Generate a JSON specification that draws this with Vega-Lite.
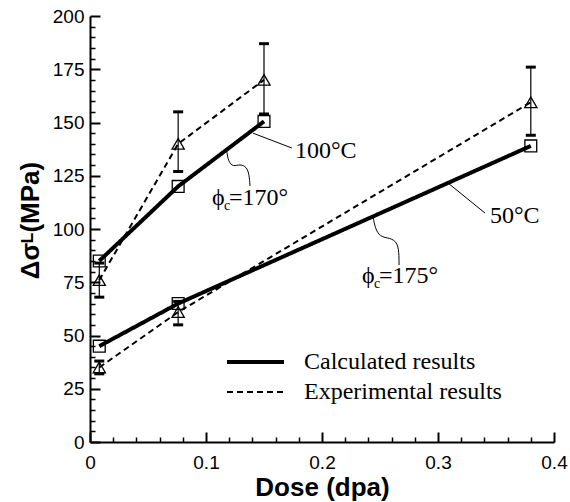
{
  "$schema": "https://vega.github.io/schema/vega-lite/v6.json",
  "width": 464,
  "height": 426,
  "autosize": "none",
  "padding": {"left": 90, "top": 16, "right": 16, "bottom": 60},
  "config": {"view": {"stroke": null}, "font": "Liberation Sans"},
  "resolve": {"axis": {"x": "independent", "y": "independent"}},
  "datasets": {
    "points": [
      {"dose": 0.008, "stress": 85, "series": "100C", "type": "Calculated results"},
      {"dose": 0.076, "stress": 120, "series": "100C", "type": "Calculated results"},
      {"dose": 0.15, "stress": 150.5, "series": "100C", "type": "Calculated results"},
      {"dose": 0.008, "stress": 45, "series": "50C", "type": "Calculated results"},
      {"dose": 0.076, "stress": 65, "series": "50C", "type": "Calculated results"},
      {"dose": 0.38, "stress": 139, "series": "50C", "type": "Calculated results"},
      {"dose": 0.008, "stress": 76, "lo": 68, "hi": 84, "series": "100E", "type": "Experimental results"},
      {"dose": 0.076, "stress": 140, "lo": 127, "hi": 155, "series": "100E", "type": "Experimental results"},
      {"dose": 0.15, "stress": 170, "lo": 154, "hi": 187, "series": "100E", "type": "Experimental results"},
      {"dose": 0.008, "stress": 35, "lo": 32, "hi": 38, "series": "50E", "type": "Experimental results"},
      {"dose": 0.076, "stress": 61, "lo": 55, "hi": 66, "series": "50E", "type": "Experimental results"},
      {"dose": 0.38, "stress": 159.5, "lo": 144, "hi": 176, "series": "50E", "type": "Experimental results"}
    ],
    "leaders": [
      {"id": "l100", "ord": 1, "dose": 0.1405, "stress": 145},
      {"id": "l100", "ord": 2, "dose": 0.1741, "stress": 138},
      {"id": "l50", "ord": 1, "dose": 0.3086, "stress": 121.6},
      {"id": "l50", "ord": 2, "dose": 0.3405, "stress": 107.5},
      {"id": "w170", "ord": 1, "dose": 0.1178, "stress": 137},
      {"id": "w170", "ord": 2, "dose": 0.1192, "stress": 131.6},
      {"id": "w170", "ord": 3, "dose": 0.1235, "stress": 129.2},
      {"id": "w170", "ord": 4, "dose": 0.1293, "stress": 130.5},
      {"id": "w170", "ord": 5, "dose": 0.1351, "stress": 129.2},
      {"id": "w170", "ord": 6, "dose": 0.1373, "stress": 125.4},
      {"id": "w170", "ord": 7, "dose": 0.1379, "stress": 120.2},
      {"id": "w175", "ord": 1, "dose": 0.2442, "stress": 105.5},
      {"id": "w175", "ord": 2, "dose": 0.2457, "stress": 100.5},
      {"id": "w175", "ord": 3, "dose": 0.25, "stress": 96.2},
      {"id": "w175", "ord": 4, "dose": 0.2586, "stress": 95.8},
      {"id": "w175", "ord": 5, "dose": 0.2647, "stress": 93.9},
      {"id": "w175", "ord": 6, "dose": 0.2664, "stress": 89.2},
      {"id": "w175", "ord": 7, "dose": 0.2664, "stress": 83.1}
    ],
    "templabels": [
      {"dose": 0.1767, "stress": 133.3, "text": "100°C"},
      {"dose": 0.3448, "stress": 102.8, "text": "50°C"}
    ],
    "philabels": [
      {"dose": 0.1052, "stress": 111.3, "phi": "ϕ", "sub": "c", "rest": "=170°"},
      {"dose": 0.2345, "stress": 74.6, "phi": "ϕ", "sub": "c", "rest": "=175°"}
    ]
  },
  "layer": [
    {
      "data": {"name": "points"},
      "mark": {"type": "line", "color": "black"},
      "encoding": {
        "x": {
          "field": "dose", "type": "quantitative",
          "scale": {"domain": [0, 0.4], "nice": false, "zero": true},
          "axis": {
            "orient": "bottom",
            "title": "Dose (dpa)",
            "values": [0, 0.1, 0.2, 0.3, 0.4],
            "format": ".1~f",
            "tickSize": -10, "tickWidth": 2, "tickColor": "black",
            "domainColor": "black", "domainWidth": 2,
            "labelPadding": 21, "labelFontSize": 19, "labelColor": "black",
            "labelFlush": false, "labelOverlap": false,
            "titleFontSize": 26, "titleFontWeight": "bold", "titleColor": "black",
            "titleY": 53, "titleBaseline": "alphabetic",
            "grid": false
          }
        },
        "y": {
          "field": "stress", "type": "quantitative",
          "scale": {"domain": [0, 200], "nice": false},
          "axis": {
            "orient": "left",
            "title": "Δσᴸ(MPa)",
            "values": [0, 25, 50, 75, 100, 125, 150, 175, 200],
            "format": "d",
            "tickSize": -10, "tickWidth": 2, "tickColor": "black",
            "domainColor": "black", "domainWidth": 2,
            "labelPadding": 16, "labelFontSize": 19, "labelColor": "black",
            "labelFlush": false, "labelOverlap": false,
            "titleFontSize": 26, "titleFontWeight": "bold", "titleColor": "black",
            "titleX": -52, "titleY": 204, "titleAlign": "center", "titleBaseline": "alphabetic", "titleAngle": -90,
            "grid": false
          }
        },
        "detail": {"field": "series"},
        "strokeDash": {
          "field": "type", "type": "nominal",
          "scale": {"domain": ["Calculated results", "Experimental results"], "range": [[1, 0], [6, 4]]},
          "legend": {"title": null, "orient": "none", "legendX": 135, "legendY": 331, "symbolType": "stroke", "symbolSize": 3249, "symbolStrokeColor": "black", "clipHeight": 30, "labelFont": "Liberation Serif", "labelFontSize": 24, "labelOffset": 18, "labelColor": "black", "labelLimit": 400, "rowPadding": 0, "padding": 0}
        },
        "strokeWidth": {
          "field": "type", "type": "nominal",
          "scale": {"domain": ["Calculated results", "Experimental results"], "range": [4, 2]},
          "legend": {"title": null, "orient": "none", "legendX": 135, "legendY": 331, "symbolType": "stroke", "symbolSize": 3249, "symbolStrokeColor": "black", "clipHeight": 30, "labelFont": "Liberation Serif", "labelFontSize": 24, "labelOffset": 18, "labelColor": "black", "labelLimit": 400, "rowPadding": 0, "padding": 0}
        }
      }
    },
    {
      "data": {"name": "points"},
      "transform": [{"filter": "datum.type == 'Experimental results'"}],
      "mark": {"type": "rule", "color": "black", "strokeWidth": 1.2},
      "encoding": {
        "x": {"field": "dose", "type": "quantitative", "axis": {
          "orient": "bottom", "title": null, "labels": false, "domain": false, "grid": false,
          "values": [0.02, 0.04, 0.06, 0.08, 0.12, 0.14, 0.16, 0.18, 0.22, 0.24, 0.26, 0.28, 0.32, 0.34, 0.36, 0.38],
          "tickSize": -5, "tickWidth": 1.5, "tickColor": "black"
        }},
        "y": {"field": "lo", "type": "quantitative", "axis": {
          "orient": "left", "title": null, "labels": false, "domain": false, "grid": false,
          "values": [5, 10, 15, 20, 30, 35, 40, 45, 55, 60, 65, 70, 80, 85, 90, 95, 105, 110, 115, 120, 130, 135, 140, 145, 155, 160, 165, 170, 180, 185, 190, 195],
          "tickSize": -5, "tickWidth": 1.5, "tickColor": "black"
        }},
        "y2": {"field": "hi"}
      }
    },
    {
      "data": {"name": "points"},
      "transform": [{"filter": "datum.type == 'Experimental results'"}],
      "mark": {"type": "tick", "orient": "horizontal", "color": "black", "size": 10, "thickness": 3, "opacity": 1},
      "encoding": {
        "x": {"field": "dose", "type": "quantitative", "axis": null},
        "y": {"field": "lo", "type": "quantitative", "axis": null}
      }
    },
    {
      "data": {"name": "points"},
      "transform": [{"filter": "datum.type == 'Experimental results'"}],
      "mark": {"type": "tick", "orient": "horizontal", "color": "black", "size": 10, "thickness": 3, "opacity": 1},
      "encoding": {
        "x": {"field": "dose", "type": "quantitative", "axis": null},
        "y": {"field": "hi", "type": "quantitative", "axis": null}
      }
    },
    {
      "data": {"name": "points"},
      "transform": [{"filter": "datum.type == 'Calculated results'"}],
      "mark": {"type": "point", "shape": "square", "filled": false, "stroke": "black", "strokeWidth": 1.3, "size": 140, "opacity": 1},
      "encoding": {
        "x": {"field": "dose", "type": "quantitative", "axis": null},
        "y": {"field": "stress", "type": "quantitative", "axis": null}
      }
    },
    {
      "data": {"name": "points"},
      "transform": [{"filter": "datum.type == 'Experimental results'"}],
      "mark": {"type": "point", "shape": "triangle-up", "filled": false, "stroke": "black", "strokeWidth": 1.3, "size": 150, "opacity": 1},
      "encoding": {
        "x": {"field": "dose", "type": "quantitative", "axis": null},
        "y": {"field": "stress", "type": "quantitative", "axis": null}
      }
    },
    {
      "data": {"name": "leaders"},
      "mark": {"type": "line", "color": "black", "strokeWidth": 1, "interpolate": "basis"},
      "encoding": {
        "x": {"field": "dose", "type": "quantitative", "axis": null},
        "y": {"field": "stress", "type": "quantitative", "axis": null},
        "detail": {"field": "id"},
        "order": {"field": "ord"}
      }
    },
    {
      "data": {"name": "templabels"},
      "mark": {"type": "text", "align": "left", "baseline": "alphabetic", "font": "Liberation Serif", "fontSize": 24, "color": "black"},
      "encoding": {
        "x": {"field": "dose", "type": "quantitative", "axis": null},
        "y": {"field": "stress", "type": "quantitative", "axis": null},
        "text": {"field": "text"}
      }
    },
    {
      "data": {"name": "philabels"},
      "mark": {"type": "text", "align": "left", "baseline": "alphabetic", "font": "Liberation Serif", "fontSize": 24, "color": "black"},
      "encoding": {
        "x": {"field": "dose", "type": "quantitative", "axis": null},
        "y": {"field": "stress", "type": "quantitative", "axis": null},
        "text": {"field": "phi"}
      }
    },
    {
      "data": {"name": "philabels"},
      "mark": {"type": "text", "align": "left", "baseline": "alphabetic", "font": "Liberation Serif", "fontSize": 14, "color": "black", "dx": 12, "dy": 5},
      "encoding": {
        "x": {"field": "dose", "type": "quantitative", "axis": null},
        "y": {"field": "stress", "type": "quantitative", "axis": null},
        "text": {"field": "sub"}
      }
    },
    {
      "data": {"name": "philabels"},
      "mark": {"type": "text", "align": "left", "baseline": "alphabetic", "font": "Liberation Serif", "fontSize": 24, "color": "black", "dx": 17},
      "encoding": {
        "x": {"field": "dose", "type": "quantitative", "axis": null},
        "y": {"field": "stress", "type": "quantitative", "axis": null},
        "text": {"field": "rest"}
      }
    }
  ]
}
